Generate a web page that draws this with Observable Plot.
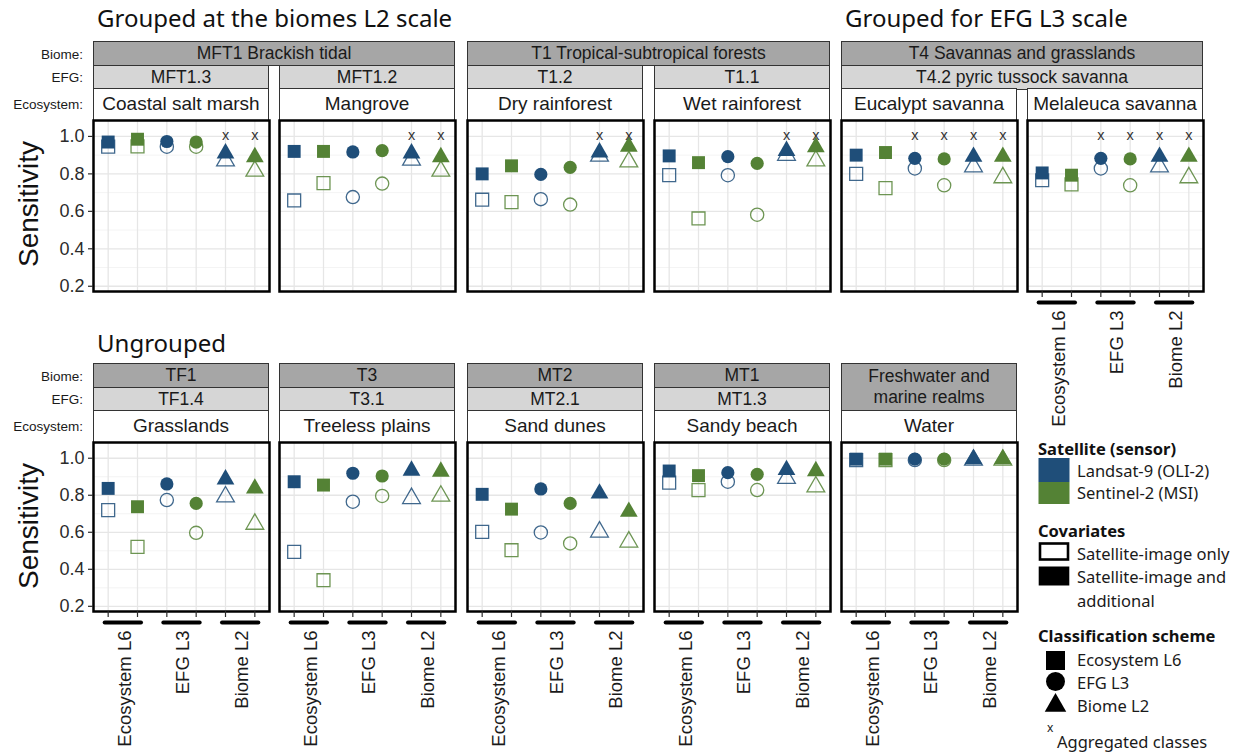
<!DOCTYPE html>
<html>
<head>
<meta charset="utf-8">
<script src="https://cdn.jsdelivr.net/npm/d3@7"></script>
<script src="https://cdn.jsdelivr.net/npm/@observablehq/plot@0.6"></script>
<style>
  body { margin: 0; background: #fff; }
  #root { position: relative; width: 1253px; height: 754px; overflow: hidden; background: #fff;
          font-family: "Liberation Sans", Arial, sans-serif; color: #1a1a1a; }
  .abs { position: absolute; white-space: nowrap; }
  .strip { position: absolute; box-sizing: border-box; border: 1.5px solid #333; display: flex;
           align-items: center; justify-content: center; text-align: center; line-height: 1.2;
           color: #1a1a1a; padding: 0 4px; }
  .title { position: absolute; font-family: "Noto Sans", sans-serif; font-size: 24px; line-height: 24px; color: #111; white-space: nowrap; }
  .rowlab { position: absolute; font-size: 13.5px; color: #1a1a1a; text-align: right; width: 90px; transform: translateY(-50%); }
  .sens { position: absolute; font-size: 28px; color: #111; transform: translate(-50%, -50%) rotate(-90deg); white-space: nowrap; }
  .leg { position: absolute; font-family: "Noto Sans", sans-serif; font-size: 16.5px; color: #1a1a1a; transform: translateY(-50%); white-space: nowrap; }
  .legh { font-weight: bold; color: #111; font-size: 16.5px; }
</style>
</head>
<body>
<div id="root"></div>
<script>
// ---------------- DATA ----------------
const schemes = ["Ecosystem L6", "EFG L3", "Biome L2"];
const sensors = ["Landsat-9 (OLI-2)", "Sentinel-2 (MSI)"];
const covariates = ["Satellite-image only", "Satellite-image and additional"];

const ecosystems = ["Coastal salt marsh", "Mangrove", "Dry rainforest", "Wet rainforest",
  "Eucalypt savanna", "Melaleuca savanna", "Grasslands", "Treeless plains", "Sand dunes",
  "Sandy beach", "Water"];
const biomeOfEcosystem = ["MFT1 Brackish tidal", "MFT1 Brackish tidal",
  "T1 Tropical-subtropical forests", "T1 Tropical-subtropical forests",
  "T4 Savannas and grasslands", "T4 Savannas and grasslands",
  "TF1", "T3", "MT2", "MT1", "Freshwater and marine realms"];
const efgOfEcosystem = ["MFT1.3", "MFT1.2", "T1.2", "T1.1",
  "T4.2 pyric tussock savanna", "T4.2 pyric tussock savanna",
  "TF1.4", "T3.1", "MT2.1", "MT1.3", null];

// values ordered: [L6 Landsat, L6 Sentinel, L3 Landsat, L3 Sentinel, L2 Landsat, L2 Sentinel]
const sensitivityImageOnly = [
  [0.945, 0.947, 0.945, 0.945, 0.870, 0.815],
  [0.658, 0.751, 0.676, 0.748, 0.874, 0.815],
  [0.662, 0.649, 0.665, 0.636, 0.895, 0.865],
  [0.793, 0.562, 0.793, 0.582, 0.900, 0.870],
  [0.800, 0.724, 0.829, 0.739, 0.838, 0.780],
  [0.766, 0.744, 0.829, 0.739, 0.838, 0.780],
  [0.720, 0.521, 0.774, 0.597, 0.792, 0.644],
  [0.494, 0.341, 0.765, 0.796, 0.783, 0.796],
  [0.602, 0.503, 0.599, 0.540, 0.602, 0.548],
  [0.868, 0.828, 0.873, 0.828, 0.892, 0.846],
  [0.990, 0.990, 0.990, 0.990, 0.990, 0.990]
];
const sensitivityWithAdditional = [
  [0.970, 0.985, 0.973, 0.970, 0.910, 0.890],
  [0.920, 0.920, 0.917, 0.924, 0.910, 0.890],
  [0.800, 0.843, 0.797, 0.835, 0.915, 0.946],
  [0.896, 0.860, 0.892, 0.856, 0.923, 0.943],
  [0.900, 0.914, 0.883, 0.880, 0.892, 0.892],
  [0.805, 0.793, 0.883, 0.880, 0.892, 0.892],
  [0.837, 0.738, 0.861, 0.756, 0.886, 0.837],
  [0.873, 0.855, 0.919, 0.904, 0.933, 0.928],
  [0.805, 0.725, 0.834, 0.756, 0.810, 0.711],
  [0.931, 0.906, 0.922, 0.913, 0.937, 0.931],
  [0.995, 0.995, 0.995, 0.995, 0.995, 0.995]
];
const aggregatedSchemes = [
  ["Biome L2"], ["Biome L2"], ["Biome L2"], ["Biome L2"],
  ["EFG L3", "Biome L2"], ["EFG L3", "Biome L2"],
  [], [], [], [], []
];
const yTicks = [0.2, 0.4, 0.6, 0.8, 1.0];
const yMinorTicks = [0.3, 0.5, 0.7, 0.9];

// ---------------- STYLE / LAYOUT ----------------
const sensorColors = ["#1f4e79", "#548235"];
const symbolShapes = ["square", "circle", "triangle"];
const symbolR = {"Ecosystem L6": 7.3, "EFG L3": 6.6, "Biome L2": 6.6};
const colLeft = [93, 279, 467, 654, 841, 1027];
const panelW = 176;
const yDomain = [0.172, 1.085];
const layoutRows = [
  {stripTop: 41, panelTop: 120, panelBottom: 291, ecoIdx: [0, 1, 2, 3, 4, 5], sensY: 204},
  {stripTop: 363, panelTop: 442, panelBottom: 611, ecoIdx: [6, 7, 8, 9, 10], sensY: 526}
];
const stripH = [25, 25, 31]; // biome, efg, ecosystem

const root = document.getElementById("root");
function el(tag, cls, css, text) {
  const e = document.createElement(tag);
  if (cls) e.className = cls;
  Object.assign(e.style, css);
  if (text != null) e.textContent = text;
  root.appendChild(e);
  return e;
}

// positions from category order
const positions = schemes.flatMap((s, i) => sensors.map((t, j) => i * 2 + j + 1));
const data = [];
ecosystems.forEach((eco, e) => {
  schemes.forEach((scheme, s) => sensors.forEach((sensor, k) => {
    const idx = s * 2 + k;
    data.push({eco, scheme, sensor, covariate: covariates[0], value: sensitivityImageOnly[e][idx], pos: idx + 1});
    data.push({eco, scheme, sensor, covariate: covariates[1], value: sensitivityWithAdditional[e][idx], pos: idx + 1});
  }));
});
const aggRows = [];
ecosystems.forEach((eco, e) => aggregatedSchemes[e].forEach(scheme => {
  const s = schemes.indexOf(scheme);
  sensors.forEach((sensor, k) => aggRows.push({eco, scheme, sensor, pos: s * 2 + k + 1}));
}));

// ---------------- TITLES ----------------
el("div", "title", {left: "97px", top: "6px"}, "Grouped at the biomes L2 scale");
el("div", "title", {left: "845px", top: "6px"}, "Grouped for EFG L3 scale");
el("div", "title", {left: "97px", top: "331px"}, "Ungrouped");

// ---------------- STRIPS ----------------
function addStrip(left, top, width, height, label, bg, fs) {
  el("div", "strip", {left: left + "px", top: top + "px", width: width + "px", height: height + "px",
    background: bg, fontSize: fs + "px"}, label);
}
function mergedRuns(labels) {
  const runs = [];
  let i = 0;
  while (i < labels.length) {
    let j = i;
    while (j + 1 < labels.length && labels[j + 1] === labels[i]) j++;
    runs.push([i, j, labels[i]]);
    i = j + 1;
  }
  return runs;
}
layoutRows.forEach(row => {
  const bTop = row.stripTop;
  const eTop = bTop + stripH[0] - 1.5;
  const cTop = eTop + stripH[1] - 1.5;
  const biomes = row.ecoIdx.map(e => biomeOfEcosystem[e]);
  const efgs = row.ecoIdx.map(e => efgOfEcosystem[e]);
  mergedRuns(biomes).forEach(([i, j, lab]) => {
    const left = colLeft[i], right = colLeft[j] + panelW;
    const spanBoth = efgs.slice(i, j + 1).every(v => v == null);
    const h = spanBoth ? (cTop - bTop + 1.5) : stripH[0];
    addStrip(left, bTop, right - left, h, lab, "#a6a6a6", 17.5);
  });
  mergedRuns(efgs).forEach(([i, j, lab]) => {
    if (lab == null) return;
    const left = colLeft[i], right = colLeft[j] + panelW;
    addStrip(left, eTop, right - left, stripH[1], lab, "#d6d6d6", 17.5);
  });
  row.ecoIdx.forEach((e, c) => {
    addStrip(colLeft[c], cTop, panelW, row.panelTop - cTop + 1, ecosystems[e], "#ffffff", 19);
  });
  // row labels
  const labY = [bTop + stripH[0] / 2, eTop + stripH[1] / 2, cTop + (row.panelTop - cTop) / 2];
  ["Biome:", "EFG:", "Ecosystem:"].forEach((t, k) => {
    el("div", "rowlab", {left: "-7px", top: labY[k] + "px"}, t);
  });
  el("div", "sens", {left: "29px", top: row.sensY + "px"}, "Sensitivity");
});

// ---------------- PANELS ----------------
function panel(row, col, ecoIndex, showY, showX) {
  const eco = ecosystems[ecoIndex];
  const mL = 50, mR = 6, mT = 4, mB = showX ? 140 : 6;
  const h = row.panelBottom - row.panelTop;
  const d = data.filter(r => r.eco === eco);
  const marks = [
    Plot.ruleY(yMinorTicks, {stroke: "#f0f0f0", strokeWidth: 0.8}),
    Plot.ruleY(yTicks, {stroke: "#e6e6e6", strokeWidth: 1.3}),
    Plot.ruleX(positions, {stroke: "#e6e6e6", strokeWidth: 1.3})
  ];
  covariates.forEach((cov, ci) => {
    schemes.forEach(scheme => {
      const subset = d.filter(r => r.covariate === cov && r.scheme === scheme);
      if (ci === 0) {
        marks.push(Plot.dot(subset, {x: "pos", y: "value", symbol: "scheme", r: symbolR[scheme],
          stroke: "sensor", fill: "none", strokeWidth: 1.3, strokeOpacity: 0.85}));
      } else {
        marks.push(Plot.dot(subset, {x: "pos", y: "value", symbol: "scheme", r: symbolR[scheme],
          fill: "sensor", stroke: "none"}));
      }
    });
  });
  marks.push(Plot.text(aggRows.filter(r => r.eco === eco), {x: "pos", text: () => "x",
    frameAnchor: "top", dy: 9, fontSize: 14.5, fill: "#333"}));
  marks.push(Plot.frame({stroke: "#000", strokeWidth: 2.5}));
  if (showY) {
    marks.push(Plot.axisY({ticks: yTicks, tickFormat: ".1f", fontSize: 18, tickSize: 5,
      tickPadding: 4, label: null, color: "#2b2b2b", strokeWidth: 1.2}));
  }
  if (showX) {
    marks.push(Plot.axisX({ticks: positions, tickFormat: () => "", tickSize: 6, label: null,
      color: "#2b2b2b", strokeWidth: 1.2}));
    marks.push(Plot.ruleY(schemes, {y: () => yDomain[0], x1: (s, i) => i * 2 + 1, x2: (s, i) => i * 2 + 2,
      dy: 11, stroke: "#000", strokeWidth: 4, strokeLinecap: "round", insetLeft: -3, insetRight: -4}));
    marks.push(Plot.text(schemes, {x: (s, i) => i * 2 + 1.5, text: s => s, frameAnchor: "bottom",
      rotate: -90, textAnchor: "end", lineAnchor: "middle", dy: 19, dx: 2, fontSize: 18.5, fill: "#1a1a1a"}));
  }
  const svg = Plot.plot({
    width: panelW + mL + mR, height: h + mT + mB,
    marginLeft: mL, marginRight: mR, marginTop: mT, marginBottom: mB,
    x: {domain: [0.5, 6.5], axis: null},
    y: {domain: yDomain, axis: null},
    symbol: {domain: schemes, range: symbolShapes},
    color: {domain: sensors, range: sensorColors},
    style: {background: "none", overflow: "visible", fontFamily: "Liberation Sans, Arial, sans-serif"},
    marks
  });
  const wrap = el("div", "abs", {left: (colLeft[col] - mL) + "px", top: (row.panelTop - mT) + "px"});
  wrap.appendChild(svg);
}
layoutRows.forEach((row, r) => {
  row.ecoIdx.forEach((e, c) => {
    const showX = r === 1 || c >= layoutRows[1].ecoIdx.length;
    panel(row, c, e, c === 0, showX);
  });
});

// ---------------- LEGEND ----------------
const LX = 1038;
el("div", "leg legh", {left: LX + "px", top: "448px"}, "Satellite (sensor)");
const sw = el("div", "abs", {left: LX + "px", top: "458px"});
sw.innerHTML = `<svg width="32" height="46"><rect x="0.5" y="0" width="31" height="24" fill="${sensorColors[0]}"/><rect x="0.5" y="24" width="31" height="22" fill="${sensorColors[1]}"/></svg>`;
el("div", "leg", {left: "1077px", top: "470px"}, sensors[0]);
el("div", "leg", {left: "1077px", top: "492px"}, sensors[1]);

el("div", "leg legh", {left: LX + "px", top: "530px"}, "Covariates");
const cv = el("div", "abs", {left: LX + "px", top: "542px"});
cv.innerHTML = `<svg width="34" height="46"><rect x="2" y="1.5" width="28" height="16" fill="#fff" stroke="#000" stroke-width="2.6"/><rect x="0.7" y="24.5" width="30.6" height="19" fill="#000"/></svg>`;
el("div", "leg", {left: "1077px", top: "553px"}, "Satellite-image only");
el("div", "leg", {left: "1077px", top: "576px"}, "Satellite-image and");
el("div", "leg", {left: "1077px", top: "600px"}, "additional");

el("div", "leg legh", {left: LX + "px", top: "635px"}, "Classification scheme");
const sy = el("div", "abs", {left: "1044px", top: "648px"});
const tri = d3.symbol(d3.symbolTriangle, 200)();
sy.innerHTML = `<svg width="24" height="70"><rect x="2" y="3" width="19" height="19" fill="#000"/><circle cx="11.5" cy="33.5" r="9.5" fill="#000"/><path transform="translate(11.5,57.5)" d="${tri}" fill="#000"/></svg>`;
el("div", "leg", {left: "1077px", top: "659px"}, schemes[0]);
el("div", "leg", {left: "1077px", top: "682px"}, schemes[1]);
el("div", "leg", {left: "1077px", top: "705px"}, schemes[2]);
el("div", "leg", {left: "1047px", top: "727px", fontSize: "12px"}, "x");
el("div", "leg", {left: "1057px", top: "741px"}, "Aggregated classes");
</script>
</body>
</html>
